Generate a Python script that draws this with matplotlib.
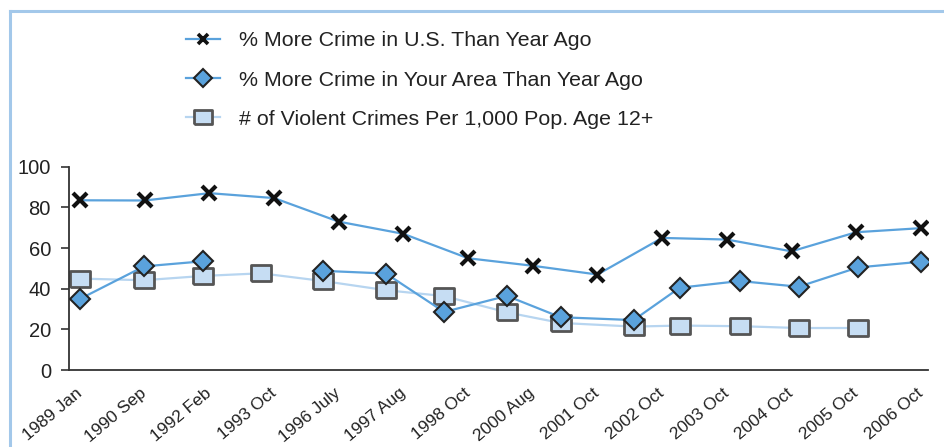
import matplotlib
matplotlib.use("Agg")
import matplotlib.pyplot as plt
import matplotlib.transforms as mtransforms
from matplotlib.lines import Line2D

plt.rcParams['font.family'] = ['Liberation Sans', 'DejaVu Sans']

# category labels on the x axis
labels = ['1989 Jan', '1990 Sep', '1992 Feb', '1993 Oct', '1996 July', '1997 Aug',
          '1998 Oct', '2000 Aug', '2001 Oct', '2002 Oct', '2003 Oct', '2004 Oct',
          '2005 Oct', '2006 Oct']

# % more crime in U.S. (one value per category)
us_vals = [83.5, 83.4, 87.0, 84.6, 73.0, 67.0, 55.0, 51.3, 47.0, 65.0, 64.2, 58.4, 67.8, 69.8]

# the other two series sit on their own (uneven) dates, in category units
# (no "your area" value at the 1993 survey)
area_pos = [0, 0.99, 1.90, 2.80, 3.76, 4.73, 5.63, 6.60, 7.43, 8.56, 9.27, 10.20, 11.11, 12.03, 13.0]
area_vals = [35.0, 51.0, 53.5, float('nan'), 48.8, 47.5, 28.6, 36.5, 26.0, 24.6, 40.5, 43.8, 41.0, 50.5, 53.3]

viol_pos = [0, 0.99, 1.90, 2.80, 3.76, 4.73, 5.63, 6.60, 7.43, 8.56, 9.27, 10.20, 11.11, 12.03]
viol_vals = [45.0, 44.2, 46.3, 47.6, 43.8, 39.3, 36.4, 28.4, 23.2, 21.4, 21.9, 21.6, 20.7, 20.7]

legend_labels = ['% More Crime in U.S. Than Year Ago',
                 '% More Crime in Your Area Than Year Ago',
                 '# of Violent Crimes Per 1,000 Pop. Age 12+']

mid_blue = '#5aa2dc'
light_blue = '#b7d5f0'
rect = [(-1.25, -1), (1.25, -1), (1.25, 1), (-1.25, 1), (-1.25, -1)]

fig = plt.figure(figsize=(9.45, 4.47), dpi=100)
ax = fig.add_axes([0.073, 0.172, 0.909, 0.455])

ax.plot(viol_pos, viol_vals, color=light_blue, lw=1.6, marker=rect, ms=15,
        mfc='#c6ddf3', mec='#555555', mew=2, zorder=2)
ax.plot(area_pos, area_vals, color=mid_blue, lw=1.6, marker='D', ms=10,
        mfc=mid_blue, mec='#222222', mew=1.5, zorder=3)
ax.plot(range(len(us_vals)), us_vals, color=mid_blue, lw=1.6, marker='x', ms=9.5,
        mec='#111111', mew=3, zorder=4)

ax.set_ylim(0, 100)
ax.set_xlim(-0.17, 13.11)
ax.set_yticks([0, 20, 40, 60, 80, 100])
ax.set_xticks(range(len(labels)))
ax.set_xticklabels(labels, rotation=40, ha='right', va='top', rotation_mode='anchor')
ax.tick_params(axis='y', labelsize=14.5, length=6, width=1.2, color='#333333', pad=7,
               labelcolor='#222222')
ax.tick_params(axis='x', labelsize=12.5, length=0, pad=11, labelcolor='#222222')
# nudge the slanted labels a little to the left
shift = mtransforms.ScaledTranslation(-0.05, 0, fig.dpi_scale_trans)
for lbl in ax.get_xticklabels():
    lbl.set_transform(lbl.get_transform() + shift)
for s in ['top', 'right']:
    ax.spines[s].set_visible(False)
for s in ['left', 'bottom']:
    ax.spines[s].set_linewidth(1.3)
    ax.spines[s].set_color('#333333')

# light blue frame lines at top and left of the figure
fig.add_artist(Line2D([0.011, 1.0], [0.975, 0.975], color='#a3c8ea', lw=2.2))
fig.add_artist(Line2D([0.011, 0.011], [0.0, 0.975], color='#a3c8ea', lw=2.2))

handles = [
    Line2D([], [], color=mid_blue, lw=1.6, marker='x', ms=7.5, mec='#111111', mew=2.6),
    Line2D([], [], color=mid_blue, lw=1.6, marker='D', ms=9, mfc=mid_blue, mec='#222222', mew=1.5),
    Line2D([], [], color=light_blue, lw=1.6, marker=rect, ms=13, mfc='#c6ddf3', mec='#555555', mew=2),
]
fig.legend(handles, legend_labels, loc='upper left', bbox_to_anchor=(0.197, 0.93),
           frameon=False, fontsize=15.4, handlelength=1.6, handletextpad=0.85,
           labelspacing=0.95, borderaxespad=0, borderpad=0, labelcolor='#222222')

fig.savefig('out.png', dpi=100)
